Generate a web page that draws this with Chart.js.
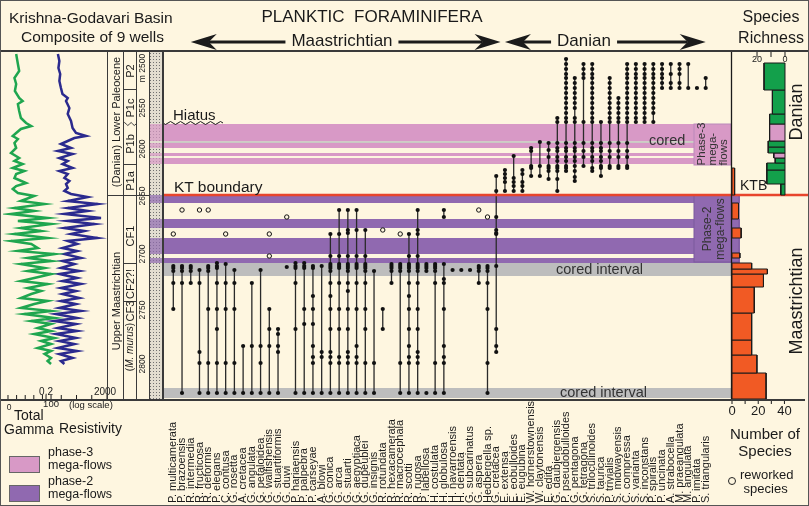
<!DOCTYPE html>
<html lang="en">
<head>
<meta charset="UTF-8" />
<title>Krishna-Godavari Basin – planktic foraminifera</title>
<script src="https://cdn.jsdelivr.net/npm/chart.js@4.4.1/dist/chart.umd.min.js"></script>
<style>
  body { margin: 0; background: #fef6e0; font-family: "Liberation Sans", Arial, sans-serif; }
  #fig { position: relative; width: 809px; height: 506px; background: #fef6e0; overflow: hidden; box-sizing: border-box; border: 1px solid #555; }
  #fig canvas { position: absolute; }
  .t { position: absolute; white-space: nowrap; color: #1a1a1a; line-height: 1; z-index: 5; }
  .c { transform: translate(-50%, 0); text-align: center; }
  .r { transform: translate(-50%, -50%) rotate(-90deg); text-align: center; }
  .rl { transform: translate(-50%, -50%) rotate(-90deg); text-align: left; }
  .cover { background: #fef6e0; padding: 0 6px; }
  .ln { position: absolute; background: #3a3a3a; z-index: 4; }
  .sw { position: absolute; width: 29px; height: 15px; border: 1px solid #666; z-index: 4; }
  #litho {
    position: absolute; left: 148px; top: 51px; width: 13px; height: 347px;
    background-color: #e2ddd0;
    background-image: radial-gradient(circle, #707070 0.8px, transparent 1px);
    background-size: 3px 3px;
  }
</style>
</head>
<body>
<div id="fig">
  <div id="litho"></div>
  <canvas id="main" width="809" height="506" style="left:0;top:0;z-index:1"></canvas>
  <canvas id="logs" width="120" height="420" style="left:0;top:0;z-index:2"></canvas>
  <canvas id="rich" width="89" height="420" style="left:720px;top:0;z-index:2"></canvas>

  <!-- frame lines -->
  <div class="ln" style="left:0;top:49px;width:809px;height:2px"></div>
  <div class="ln" style="left:0;top:398px;width:804px;height:1.5px"></div>
  <div class="ln" style="left:106px;top:51px;width:1px;height:347px"></div>
  <div class="ln" style="left:122px;top:51px;width:1px;height:347px"></div>
  <div class="ln" style="left:135px;top:51px;width:1px;height:347px"></div>
  <div class="ln" style="left:148px;top:51px;width:1px;height:347px"></div>
  <div class="ln" style="left:161px;top:51px;width:1.5px;height:347px"></div>
  <div class="ln" style="left:106px;top:194px;width:42px;height:1px"></div>
  <div class="ln" style="left:122px;top:88px;width:13px;height:1px"></div>
  <div class="ln" style="left:122px;top:163px;width:13px;height:1px"></div>
  <div class="ln" style="left:122px;top:262px;width:13px;height:1px"></div>
  <div class="ln" style="left:122px;top:300px;width:13px;height:1px"></div>
  <svg style="position:absolute;left:122px;top:119px;z-index:4" width="13" height="8"><path d="M0 4 Q1.6 1 3.2 4 T6.5 4 T9.7 4 T13 4" fill="none" stroke="#3a3a3a" stroke-width="1"/></svg>

  <!-- header -->
  <div class="t" style="left:8px;top:9px;font-size:15.5px">Krishna-Godavari Basin</div>
  <div class="t" style="left:20px;top:28px;font-size:15.5px">Composite of 9 wells</div>
  <div class="t c" style="left:371px;top:7px;font-size:17px">PLANKTIC&nbsp;&nbsp;FORAMINIFERA</div>
  <div class="t c cover" style="left:341px;top:31px;font-size:17px">Maastrichtian</div>
  <div class="t c cover" style="left:583px;top:31px;font-size:17px">Danian</div>
  <div class="t c" style="left:770px;top:8px;font-size:16px">Species</div>
  <div class="t c" style="left:770px;top:29px;font-size:16px">Richness</div>

  <!-- stratigraphic columns -->
  <div class="t r" style="left:114.5px;top:121px;font-size:11px">(Danian) Lower Paleocene</div>
  <div class="t r" style="left:114.5px;top:300px;font-size:11px">Upper Maastrichtian</div>
  <div class="t r" style="left:128.5px;top:70px;font-size:11px">P2</div>
  <div class="t r" style="left:128.5px;top:107px;font-size:11px">P1c</div>
  <div class="t r" style="left:128.5px;top:143px;font-size:11px">P1b</div>
  <div class="t r" style="left:128.5px;top:180px;font-size:11px">P1a</div>
  <div class="t r" style="left:128.5px;top:235px;font-size:11px">CF1</div>
  <div class="t r" style="left:128.5px;top:283px;font-size:11px">CF2?!</div>
  <div class="t r" style="left:128.5px;top:310px;font-size:11px">CF3</div>
  <div class="t r" style="left:128.5px;top:346px;font-size:10px">(<i>M. murus</i>)</div>

  <!-- in-chart labels -->
  <div class="t" style="left:172px;top:106px;font-size:15px">Hiatus</div>
  <div class="t" style="left:173px;top:178px;font-size:15.5px">KT boundary</div>
  <div class="t" style="left:648px;top:132px;font-size:14.5px;color:#333">cored</div>
  <div class="t" style="left:555px;top:261px;font-size:14.5px;color:#333">cored interval</div>
  <div class="t" style="left:559px;top:384px;font-size:14.5px;color:#333">cored interval</div>
  <div class="t" style="left:739px;top:177px;font-size:14px">KTB</div>
  <div class="t rl" style="left:711px;top:143px;font-size:11.5px;line-height:11px;color:#333">Phase-3<br>mega-<br>flows</div>
  <div class="t r" style="left:713px;top:228px;font-size:12px;line-height:13px;color:#333">Phase-2<br>mega-flows</div>
  <div class="t r" style="left:795px;top:111px;font-size:18px">Danian</div>
  <div class="t r" style="left:795px;top:300px;font-size:18px">Maastrichtian</div>

  <!-- bottom left -->
  <div class="t" style="left:13px;top:407px;font-size:14px">Total</div>
  <div class="t" style="left:3px;top:421px;font-size:14px">Gamma</div>
  <div class="t" style="left:58px;top:420px;font-size:14px">Resistivity</div>
  <div class="t" style="left:68px;top:399px;font-size:9.5px">(log scale)</div>
  <div class="sw" style="left:8px;top:455px;background:#d899c6"></div>
  <div class="t" style="left:47px;top:445px;font-size:12.5px;line-height:13px">phase-3<br>mega-flows</div>
  <div class="sw" style="left:8px;top:484px;background:#9069b0"></div>
  <div class="t" style="left:47px;top:474px;font-size:12.5px;line-height:13px">phase-2<br>mega-flows</div>

  <!-- bottom right -->
  <div class="t c" style="left:764px;top:424px;font-size:15px;line-height:17px">Number of<br>Species</div>
  <div style="position:absolute;left:727px;top:476px;width:6px;height:6px;border:1.5px solid #222;border-radius:50%;z-index:5"></div>
  <div class="t" style="left:739px;top:467px;font-size:13px;line-height:14px">reworked<br>&nbsp;species</div>
</div>

<script>
Chart.defaults.font.family = '"Liberation Sans", Arial, sans-serif';

// ---- species (x categories, left to right) ----
const species = [
  "P. multicamerata", "P. brazoensis", "R. intermedia", "R. fructicosa", "R. deformis",
  "P. elegans", "C. contusa", "G. rosetta", "A. cretacea", "G. angulata",
  "G. petaloidea", "G. walfishensis", "G. stuartiformis", "G. duwi", "P. hariaensis",
  "P. palpebra", "P. carseyae", "A. blowi", "G. conica", "G. arca",
  "G. stuarti", "G. aegyptiaca", "G. dupeublei", "G. insignis", "R. rotundata",
  "R. hexacamerata", "R. macrocephala", "R. scotti", "R. rugosa", "P. labellosa",
  "H. costulata", "H. globulosa", "H. navarroensis", "H. dentata", "G. subcarinatus",
  "G. aspera", "Hedbergella sp.", "G. cretacea", "E. extensa", "E. eobulloides",
  "E. eugubina", "W. hornerstownensis", "W. claytonensis", "E. edita", "G. daubjergensis",
  "P. pseudobulloides", "G. pentagona", "G. tetragona", "S. triloculinoides", "S. taurica",
  "P. trivialis", "S. midwayensis", "C. compressa", "S. varianta", "S. inconstans",
  "P. spiralis", "P. uncinata", "A. strabocella", "M. praeangulata", "M. angulata",
  "P. imitata", "S. triangularis"
];

// ---- sample depths (m, composite) where each species was found; null = break in range ----
const occurrences = [
  [2701, 2703, 2706, 2718, 2744],
  [2701, 2703, 2706, 2718, 2828],
  [2701, 2703, 2706, 2718],
  [2705, 2718, 2787, 2798, 2828],
  [2701, 2703, 2706, 2744, 2798, 2828],
  [2698, 2701, 2703, 2718, 2744, 2764, 2798, 2828],
  [2699, 2718, 2744, 2798, 2828],
  [2705, 2718, 2744, 2798, 2828],
  [2781, 2828],
  [2718, 2781, 2828],
  [2705, 2781, 2798, 2828],
  [2744, 2764, 2781, 2828],
  [2764, 2769, 2781, 2787, 2828],
  [2702],
  [2698, 2701, 2703, 2718, 2764, 2828],
  [2698, 2701, 2703, 2744, 2759, 2828],
  [2701, 2703, 2731, 2744, 2759, 2781, 2792, 2798, 2828],
  [2701, 2787, 2792, 2828],
  [2669, 2691, 2699, 2701, 2703, 2706, 2718, 2731, 2744, 2764, 2787, 2792, 2798, 2828],
  [2645, 2669, 2691, 2699, 2701, 2703, 2718, 2744, 2764, 2792, 2798, 2828],
  [2645, 2665, 2668, 2691, 2699, 2701, 2703, 2706, 2718, 2726, 2744, 2764, 2787, 2792, 2798, 2828],
  [2645, 2665, 2691, 2699, 2701, 2703, 2718, 2744, 2781, 2792, 2798, 2828],
  [2665, 2691, 2699, 2701, 2703, 2706, 2718, 2744, 2764, 2798, 2828],
  [2706, 2798, 2828],
  [2744, 2764],
  [2699, 2701, 2703, 2706, 2718],
  [2699, 2701, 2703, 2706, 2798, 2828],
  [2669, 2691, 2699, 2701, 2703, 2706, 2718, 2731, 2744, 2764, 2781, 2792, 2798, 2828],
  [2645, 2665, 2669, 2691, 2699, 2701, 2703, 2706, 2718, 2744, 2764, 2787, 2792, 2798, 2828],
  [2699, 2701, 2703, 2706, null, 2828],
  [2699, 2701, 2703, 2706, 2718, 2798, 2828],
  [2645, 2652, null, 2699, 2714, 2718, 2744, 2781, 2792, 2798, 2828],
  [2705],
  [2705],
  [2705],
  [2701, 2703, 2706, 2718],
  [2701, 2703, 2706, 2718, 2744, 2798, 2828],
  [2611, 2626, 2652, 2665, 2668, 2669, 2701, 2764, 2781, 2787],
  [2605, 2609, 2613, 2617, 2626],
  [2591, 2613, 2617, 2621, 2626],
  [2605, 2609, 2617, 2621, 2626],
  [2583, 2586, 2601, 2603, 2611],
  [2577, 2601, 2611],
  [2578, 2585, 2592, 2601, 2603, 2606, 2614],
  [2553, 2557, 2578, 2583, 2586, 2592, 2596, 2601, 2603, 2606, 2614, 2626],
  [2494, 2499, 2504, 2509, 2513, 2518, 2523, 2528, 2533, 2538, 2543, 2548, 2553, 2557, 2578, 2583, 2586, 2592, 2596, 2601, 2603, 2606],
  [2513, 2518, 2523, 2528, 2533, 2538, 2543, 2553, 2557, 2578, 2583, 2586, 2592, 2596, 2601, 2606, 2612, 2616],
  [2499, 2504, 2509, 2513, 2557, 2578, 2586, 2592, 2601],
  [2499, 2504, 2509, 2513, 2518, 2523, 2528, 2533, 2538, 2543, 2548, 2553, 2557, 2578, 2583, 2586, 2592, 2596, 2603, 2606],
  [2557, 2578, 2583, 2586, 2592, 2596, 2601, 2603, 2611],
  [2513, 2518, 2523, 2528, 2533, 2538, 2543, 2548, 2553, 2557, 2578, 2586, 2592, 2601, 2603],
  [2533, 2538, 2543, 2548, 2553, 2557, 2578, 2586, 2592, 2601, 2603],
  [2499, 2504, 2509, 2513, 2518, 2523, 2528, 2533, 2538, 2543, 2548, 2553, 2557, 2578, 2586, 2592, 2601, 2603],
  [2499, 2504, 2509, 2513, 2518, 2523, 2528, 2533, 2538, 2543, 2548, 2553, 2557],
  [2499, 2504, 2509, 2513, 2518, 2523, 2528, 2533, 2538, 2543, 2548, 2553, 2557],
  [2499, 2504, 2509, 2513, 2518, 2523, 2528, 2533, 2538, 2543, 2548, 2557],
  [2499, 2504, 2509, 2513, 2518, 2523],
  [2499, 2509, 2518, 2523],
  [2499, 2504, 2509, 2518, 2523],
  [2499, 2523],
  [2523],
  [2513, 2523]
];

// reworked specimens: [species index, depth]
const reworked = [[0, 2669], [1, 2645], [3, 2645], [4, 2645], [6, 2669], [11, 2669], [11, 2691],
  [13, 2652], [24, 2665], [26, 2669], [35, 2645], [36, 2652]];

// ---- intervals (top, base in m) ----
const phase3Bands = [[2559, 2576], [2578, 2583], [2588, 2591], [2593, 2599]];
const phase2Bands = [[2630, 2638], [2654, 2663], [2673, 2689], [2693, 2698]];
const coredBands = [[2576.3, 2577.8], [2698, 2711], [2823, 2833]];
const phase3Label = [2559, 2600];
const phase2Label = [2630, 2697];
const ktDepth = 2630;
const hiatusDepth = 2558;

// depth axis (composite scale, labels are not evenly spaced)
const depthTickPos = [2503, 2543, 2584, 2631, 2689, 2745, 2799];
const depthTickLabels = ["m 2500", "2550", "2600", "2650", "2700", "2750", "2800"];

// stage arrows in the header, in species-column units
const maasArrow = [2.0, 37.5];
const danArrow = [38.0, 61.0];

// ---- well logs ----
const gammaDepth = [2489, 2499, 2506, 2513, 2519, 2526, 2533, 2536, 2539, 2546, 2553, 2558, 2561, 2564, 2568, 2571,
  2574, 2578, 2583, 2588, 2593, 2596, 2599, 2603, 2606, 2609, 2613, 2618, 2621, 2624, 2628, 2631,
  2636, 2639, 2643, 2646, 2649, 2653, 2656, 2659, 2663, 2666, 2669, 2673, 2676, 2679, 2683, 2686,
  2689, 2693, 2696, 2699, 2703, 2706, 2709, 2713, 2716, 2719, 2723, 2726, 2729, 2733, 2736, 2739,
  2743, 2746, 2749, 2753, 2756, 2759, 2763, 2766, 2769, 2773, 2776, 2779, 2783, 2786, 2789, 2793, 2796, 2799];
const gammaApi = [19, 23, 26, 15, 19, 16, 26, 34, 23, 26, 30, 42, 54, 30, 19, 11,
  23, 15, 19, 7, 26, 15, 34, 11, 38, 19, 15, 42, 19, 11, 23, 61,
  30, 85, 15, 61, 7, 92, 23, 100, 30, 77, 15, 92, 7, 54, 69, 23,
  108, 46, 100, 30, 85, 46, 100, 61, 30, 92, 46, 77, 54, 30, 92, 61,
  30, 100, 38, 108, 54, 100, 69, 100, 61, 108, 77, 100, 69, 100, 85, 100, 92, 100];
const resDepth = [2489, 2496, 2503, 2509, 2516, 2523, 2529, 2533, 2536, 2543, 2549, 2556, 2563, 2568, 2571, 2573,
  2576, 2579, 2583, 2586, 2589, 2593, 2596, 2599, 2603, 2606, 2609, 2613, 2616, 2619, 2623, 2626, 2629, 2632,
  2636, 2639, 2643, 2646, 2649, 2653, 2656, 2659, 2663, 2666, 2669, 2673, 2676, 2679, 2683, 2686,
  2689, 2693, 2696, 2699, 2703, 2706, 2709, 2713, 2716, 2719, 2723, 2726, 2729, 2733, 2736, 2739,
  2743, 2746, 2749, 2753, 2756, 2759, 2763, 2766, 2769, 2773, 2776, 2779, 2783, 2786, 2789, 2793, 2796, 2799];
const resOhm = [1.2, 1.5, 1.3, 1.7, 1.5, 1.9, 2.4, 5.3, 4.1, 6.8, 5.3, 8.7, 11, 18.5, 84, 14.5,
  5.3, 1.9, 8.7, 1.2, 11, 1.5, 5.3, 2.4, 11, 1.5, 5.3, 3.2, 6.8, 4.1, 5.3, 3.2, 8.7, 108,
  5.3, 490, 5.3, 108, 3.2, 809, 5.3, 300, 3.2, 66, 8.7, 490, 5.3, 22, 2.4, 22,
  3.2, 39, 2.4, 14.5, 1.9, 30, 1.5, 22, 2.4, 39, 1.9, 18.5, 2.4, 30, 1.9, 18.5,
  1.5, 39, 0.9, 22, 0.7, 18.5, 1.2, 22, 0.9, 18.5, 1.5, 14.5, 1.2, 22, 1.5, 11, 1.9, 3.2];
const gammaTicks = [0, 20, 40, 60, 80, 100];
const gammaTickLabels = ["0", "", "", "", "", "100"];
const resTicks = [0.2, 2, 20, 200, 2000];
const resTickLabels = ["0.2", "", "", "", "2000"];

// ---- species richness per interval ----
const danTop = [2498, 2525, 2549, 2559, 2576, 2582, 2588, 2593, 2598, 2605, 2619];
const danBase = [2525, 2549, 2559, 2576, 2582, 2588, 2593, 2598, 2605, 2619, 2630];
const danCount = [15, 9, 11, 11, 12, 12, 8, 7, 13, 13, 3];
const danInFlow = [false, false, false, true, false, false, true, false, false, false, false];
const maasTop = [2603, 2638, 2663, 2688, 2698, 2704, 2709, 2722, 2748, 2775, 2790, 2808];
const maasBase = [2630, 2654, 2673, 2693, 2704, 2709, 2722, 2748, 2775, 2790, 2808, 2834];
const maasCount = [2, 5, 7, 6, 15, 27, 24, 17, 15, 15, 19, 26];
const danTicks = [0, 10, 20];
const danTickLabels = ["0", "", "20"];
const maasTicks = [0, 10, 20, 30, 40];
const maasTickLabels = ["0", "", "20", "", "40"];

const INK = "#1b1b1b", PINK = "#d899c6", PURPLE = "#9069b0", GREY = "#bdbdbd", CREAM = "#fef6e0";
const DEPTH = { min: 2487, max: 2834, reverse: true, display: false };

function strokeLine(ctx, x0, y0, x1, y1) {
  ctx.beginPath(); ctx.moveTo(x0, y0); ctx.lineTo(x1, y1); ctx.stroke();
}

function arrowHead(ctx, tipX, y, dir) {
  ctx.beginPath();
  ctx.moveTo(tipX, y);
  ctx.lineTo(tipX + dir * 26, y - 8);
  ctx.lineTo(tipX + dir * 18, y);
  ctx.lineTo(tipX + dir * 26, y + 8);
  ctx.closePath();
  ctx.fill();
}

// bands, labels and header arrows for the range chart
const rangeDecor = {
  id: "rangeDecor",
  beforeDatasetsDraw(chart) {
    const { ctx, chartArea: a, scales: { y } } = chart;
    const lithoL = a.left - 13;
    const band = (top, base, color, x0, x1, alpha) => {
      ctx.globalAlpha = alpha;
      ctx.fillStyle = color;
      const py = y.getPixelForValue(top);
      ctx.fillRect(x0, py, x1 - x0, y.getPixelForValue(base) - py);
      ctx.globalAlpha = 1;
    };
    ctx.save();
    phase3Bands.forEach(([t, b]) => { band(t, b, PINK, lithoL, a.left, 0.7); band(t, b, PINK, a.left, a.right, 1); });
    phase2Bands.forEach(([t, b]) => { band(t, b, PURPLE, lithoL, a.left, 0.7); band(t, b, PURPLE, a.left, a.right + 9, 1); });
    coredBands.forEach(([t, b]) => band(t, b, GREY, a.left, a.right, 1));
    band(phase3Label[0], phase3Label[1], PINK, a.right - 37, a.right, 1);
    band(phase2Label[0], phase2Label[1], PURPLE, a.right - 37, a.right + 8, 1);
    ctx.strokeStyle = "#b98aba";
    ctx.lineWidth = 1;
    ctx.strokeRect(a.right - 37, y.getPixelForValue(phase3Label[0]), 37, y.getPixelForValue(phase3Label[1]) - y.getPixelForValue(phase3Label[0]));
    ctx.strokeStyle = "#7b5a9c";
    ctx.strokeRect(a.right - 37, y.getPixelForValue(phase2Label[0]), 45, y.getPixelForValue(phase2Label[1]) - y.getPixelForValue(phase2Label[0]));
    ctx.restore();
  },
  afterDraw(chart) {
    const { ctx, chartArea: a, scales: { x, y } } = chart;
    ctx.save();
    // KT boundary
    ctx.strokeStyle = "#e8452c";
    ctx.lineWidth = 2.5;
    strokeLine(ctx, a.left, y.getPixelForValue(ktDepth), chart.width, y.getPixelForValue(ktDepth));
    // richness axis line
    ctx.strokeStyle = INK;
    ctx.lineWidth = 1.3;
    strokeLine(ctx, a.right + 0.5, a.top, a.right + 0.5, a.bottom);
    // hiatus wave
    const hy = y.getPixelForValue(hiatusDepth);
    ctx.lineWidth = 1;
    ctx.beginPath();
    ctx.moveTo(a.left, hy);
    for (let k = 0; k < 6; k++) {
      const x0 = a.left + k * 10;
      ctx.quadraticCurveTo(x0 + 2.5, hy + 3, x0 + 5, hy);
      ctx.quadraticCurveTo(x0 + 7.5, hy - 3, x0 + 10, hy);
    }
    ctx.stroke();
    // depth labels
    ctx.fillStyle = INK;
    ctx.font = '8.5px "Liberation Sans", Arial, sans-serif';
    ctx.textAlign = "center";
    ctx.textBaseline = "middle";
    depthTickPos.forEach((d, k) => {
      ctx.save();
      ctx.translate(a.left - 20, y.getPixelForValue(d));
      ctx.rotate(-Math.PI / 2);
      ctx.fillText(depthTickLabels[k], 0, 0);
      ctx.restore();
    });
    // species names
    ctx.font = '11px "Liberation Sans", Arial, sans-serif';
    ctx.textAlign = "left";
    species.forEach((name, i) => {
      ctx.save();
      ctx.translate(x.getPixelForValue(i), 502);
      ctx.rotate(-Math.PI / 2);
      ctx.fillText(name, 0, 0);
      ctx.restore();
    });
    // header arrows
    const ay = 41;
    ctx.lineWidth = 3;
    [maasArrow, danArrow].forEach(([s, e]) => {
      const x0 = x.getPixelForValue(s), x1 = x.getPixelForValue(e);
      strokeLine(ctx, x0 + 18, ay, x1 - 18, ay);
      arrowHead(ctx, x0, ay, 1);
      arrowHead(ctx, x1, ay, -1);
    });
    ctx.restore();
  }
};

const rangeSets = occurrences.map((depths, i) => ({
  data: depths.map(d => ({ x: i, y: d })),
  showLine: true,
  spanGaps: false,
  borderColor: "#2a2a2a",
  borderWidth: 1.3,
  pointRadius: 2.1,
  pointBackgroundColor: "#111",
  pointBorderWidth: 0
}));
rangeSets.push({
  data: reworked.map(([i, d]) => ({ x: i, y: d })),
  showLine: false,
  pointRadius: 2.2,
  pointBackgroundColor: CREAM,
  pointBorderColor: "#111",
  pointBorderWidth: 1
});

new Chart(document.getElementById("main"), {
  type: "scatter",
  data: { datasets: rangeSets },
  options: {
    responsive: false,
    animation: false,
    devicePixelRatio: 1,
    layout: { padding: { left: 162, right: 79, top: 51, bottom: 108 } },
    plugins: { legend: { display: false }, tooltip: { enabled: false } },
    scales: {
      x: { type: "linear", min: -1.18, max: 63.9, display: false },
      y: DEPTH
    }
  },
  plugins: [rangeDecor]
});

// ---- gamma / resistivity logs ----
const logAxes = {
  id: "logAxes",
  afterDraw(chart) {
    const { ctx, chartArea: a, scales: { xg, xr } } = chart;
    ctx.save();
    ctx.strokeStyle = INK;
    ctx.fillStyle = INK;
    ctx.lineWidth = 1;
    ctx.textAlign = "center";
    gammaTicks.forEach((v, k) => {
      const px = xg.getPixelForValue(v);
      strokeLine(ctx, px, a.bottom, px, a.bottom - 4);
      ctx.font = (k === 0 ? "8.5px" : "9.5px") + ' "Liberation Sans", Arial, sans-serif';
      ctx.textBaseline = "top";
      ctx.fillText(gammaTickLabels[k], px + (k === 0 ? 1 : 0), a.bottom + (k === 0 ? 4 : 1));
    });
    resTicks.forEach((v, k) => {
      const px = xr.getPixelForValue(v);
      strokeLine(ctx, px, a.bottom, px, a.bottom - 4);
      ctx.font = '10px "Liberation Sans", Arial, sans-serif';
      ctx.textBaseline = "bottom";
      ctx.fillText(resTickLabels[k], px - (k === resTicks.length - 1 ? 2 : 0), a.bottom - 2);
    });
    ctx.restore();
  }
};

new Chart(document.getElementById("logs"), {
  type: "scatter",
  data: {
    datasets: [
      { data: gammaDepth.map((d, k) => ({ x: gammaApi[k], y: d })), xAxisID: "xg", showLine: true,
        borderColor: "#1fa64f", borderWidth: 2.5, pointRadius: 0 },
      { data: resDepth.map((d, k) => ({ x: resOhm[k], y: d })), xAxisID: "xr", showLine: true,
        borderColor: "#2b2a8e", borderWidth: 2.5, pointRadius: 0 }
    ]
  },
  options: {
    responsive: false,
    animation: false,
    devicePixelRatio: 1,
    layout: { padding: { left: 2, right: 14, top: 51, bottom: 22 } },
    plugins: { legend: { display: false }, tooltip: { enabled: false } },
    scales: {
      xg: { type: "linear", axis: "x", min: -11.6, max: 230, display: false },
      xr: { type: "logarithmic", axis: "x", min: 0.0003, max: 2000, display: false },
      y: DEPTH
    }
  },
  plugins: [logAxes]
});

// ---- species richness ----
const box = (top, base, count, axis, fillColor) => ({
  data: [{ x: 0, y: top }, { x: count, y: top }, { x: count, y: base }, { x: 0, y: base }, { x: 0, y: top }],
  xAxisID: axis,
  showLine: true,
  fill: "shape",
  backgroundColor: fillColor,
  borderColor: INK,
  borderWidth: 1,
  pointRadius: 0
});
const richSets = [];
danTop.forEach((t, k) => richSets.push(box(t, danBase[k], danCount[k], "xd", danInFlow[k] ? PINK : "#13a04b")));
maasTop.forEach((t, k) => richSets.push(box(t, maasBase[k], maasCount[k], "xm", "#f15a24")));

const richAxes = {
  id: "richAxes",
  afterDraw(chart) {
    const { ctx, chartArea: a, scales: { xd, xm } } = chart;
    ctx.save();
    ctx.strokeStyle = INK;
    ctx.fillStyle = INK;
    ctx.lineWidth = 1;
    ctx.textAlign = "center";
    ctx.textBaseline = "top";
    ctx.font = '13px "Liberation Sans", Arial, sans-serif';
    maasTicks.forEach((v, k) => {
      const px = xm.getPixelForValue(v);
      strokeLine(ctx, px, a.bottom, px, a.bottom + 5);
      ctx.fillText(maasTickLabels[k], px, a.bottom + 6);
    });
    ctx.font = '9px "Liberation Sans", Arial, sans-serif';
    danTicks.forEach((v, k) => {
      const px = xd.getPixelForValue(v);
      strokeLine(ctx, px, a.top, px, a.top + 5);
      ctx.fillText(danTickLabels[k], px, a.top + 3);
    });
    ctx.restore();
  }
};

new Chart(document.getElementById("rich"), {
  type: "scatter",
  data: { datasets: richSets },
  options: {
    responsive: false,
    animation: false,
    devicePixelRatio: 1,
    layout: { padding: { left: 11, right: 19, top: 51, bottom: 22 } },
    plugins: { legend: { display: false }, tooltip: { enabled: false } },
    scales: {
      xd: { type: "linear", axis: "x", min: -4.3, max: 37.9, reverse: true, display: false },
      xm: { type: "linear", axis: "x", min: 0, max: 45, display: false },
      y: DEPTH
    }
  },
  plugins: [richAxes]
});
</script>
</body>
</html>
